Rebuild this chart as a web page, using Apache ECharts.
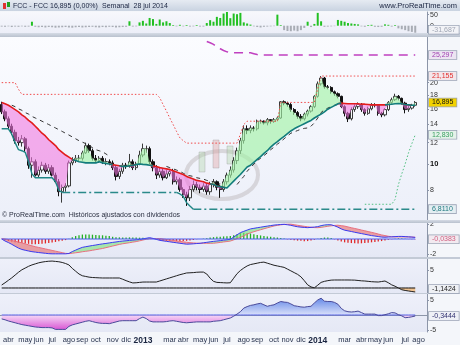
<!DOCTYPE html>
<html><head><meta charset="utf-8">
<script src="https://cdn.jsdelivr.net/npm/echarts@6/dist/echarts.min.js"></script>
<style>html,body{margin:0;padding:0;background:#f4f6fa}#c{width:460px;height:345px}</style>
</head><body><div id="c"></div>
<script>
// ---------- DATA (weekly, FCC, from 19 mar 2012 to 28 jul 2014) ----------
const monthNames = ['ene','feb','mar','abr','may','jun','jul','ago','sep','oct','nov','dic'];
const priceTicks = [8,10,12,14,16,18,20];

const open = [16.6,15.6,14.7,13.8,13.1,12.2,12.0,12.4,11.4,9.9,
 10.2,9.1,9.5,9.9,9.4,9.7,9.1,8.6,7.9,8.2,
 8.3,10.1,10.3,10.5,10.5,11.0,11.7,11.2,10.5,10.3,
 10.5,10.2,10.2,10.1,9.7,9.0,9.4,9.9,9.8,10.2,
 9.7,10.0,10.8,11.4,11.4,10.2,9.7,9.1,9.4,8.9,
 9.2,9.4,8.6,8.75,8.05,7.7,7.5,8.05,8.4,8.2,
 8.05,8.3,7.9,8.4,8.6,8.2,8.05,8.6,9.1,9.5,
 10.3,11.2,12.2,13.5,13.3,13.6,13.5,14.4,14.4,14.2,
 14.6,14.4,14.6,14.8,17.0,16.8,16.6,15.9,15.5,15.0,
 14.7,15.3,15.7,16.3,17.8,19.8,20.8,19.3,19.2,18.5,
 18.2,17.8,16.3,15.4,14.7,15.9,16.3,16.6,15.9,15.4,
 16.0,16.5,16.5,15.4,15.2,15.9,16.9,17.3,17.8,17.5,
 16.8,15.9,16.1,16.5];
const close = [15.6,14.7,13.8,13.1,12.2,12.0,12.4,11.4,9.9,10.2,
 9.1,9.5,9.9,9.4,9.7,9.1,8.6,7.9,8.2,8.3,
 10.1,10.3,10.5,10.5,11.0,11.7,11.2,10.5,10.3,10.5,
 10.2,10.2,10.1,9.7,9.0,9.4,9.9,9.8,10.2,9.7,
 10.0,10.8,11.4,11.4,10.2,9.7,9.1,9.4,8.9,9.2,
 9.4,8.6,8.75,8.05,7.7,7.5,8.05,8.4,8.2,8.05,
 8.3,7.9,8.4,8.6,8.2,8.05,8.6,9.1,9.5,10.3,
 11.2,12.2,13.5,13.3,13.6,13.5,14.4,14.4,14.2,14.6,
 14.4,14.6,14.8,17.0,16.8,16.6,15.9,15.5,15.0,14.7,
 15.3,15.7,16.3,17.8,19.8,20.8,19.3,19.2,18.5,18.2,
 17.8,16.3,15.4,14.7,15.9,16.3,16.6,15.9,15.4,16.0,
 16.5,16.5,15.4,15.2,15.9,16.9,17.3,17.8,17.5,16.8,
 15.9,16.1,16.5,16.895];
const high = [17.0,15.9,15.0,14.1,13.4,12.6,12.8,12.6,11.6,10.6,
 10.4,9.8,10.2,10.1,10.0,9.9,9.3,8.8,8.4,8.5,
 10.3,10.6,10.8,10.8,11.2,12.0,11.9,11.4,10.8,10.7,
 10.7,10.5,10.4,10.3,9.9,9.6,10.1,10.1,10.9,10.4,
 10.2,11.2,11.9,11.7,11.6,10.4,9.9,9.7,9.6,9.5,
 9.6,9.6,9.0,8.9,8.2,7.9,8.3,8.7,8.6,8.4,
 8.5,8.5,8.6,8.8,8.7,8.4,8.8,9.3,9.8,10.6,
 11.5,12.5,13.9,13.9,13.9,13.8,14.6,14.6,14.5,14.8,
 14.6,14.8,15.0,17.1,17.2,17.0,16.8,16.1,15.7,15.3,
 15.5,15.9,16.5,18.0,20.2,21.15,21.0,19.6,19.4,18.7,
 18.4,17.9,16.5,15.6,16.2,16.6,16.9,16.8,16.1,16.3,
 16.8,16.8,16.6,15.6,16.1,17.1,17.6,18.2,18.0,17.6,
 17.0,16.4,16.7,17.1];
const low = [15.3,14.4,13.5,12.8,11.9,11.7,11.6,11.1,9.6,8.9,
 9.0,8.9,9.3,9.2,9.2,9.0,8.5,7.6,7.2,7.9,
 8.2,9.9,10.1,10.2,10.3,10.9,11.0,10.3,10.1,10.1,
 10.0,9.9,9.9,9.5,8.7,8.8,9.2,9.6,9.7,9.5,
 9.5,9.9,10.6,11.0,10.0,9.4,8.8,8.9,8.7,8.8,
 9.0,8.4,8.4,7.9,7.5,7.0,7.3,7.9,8.0,7.8,
 7.9,7.7,7.7,8.2,8.0,7.5,7.9,8.4,8.9,9.3,
 10.0,10.9,11.9,12.9,13.0,13.2,13.3,14.1,14.0,13.9,
 14.1,14.2,14.4,14.7,16.5,16.3,15.6,15.2,14.7,14.4,
 14.5,15.0,15.5,16.1,17.6,19.5,19.0,18.9,18.2,17.9,
 17.5,16.1,15.0,14.3,14.5,15.6,16.0,15.6,15.1,15.2,
 15.8,16.2,15.1,14.9,15.0,15.7,16.7,17.1,17.2,16.6,
 15.4,15.6,15.9,16.3];
// slow moving average
const ma = [16.9,16.7,16.5,16.2,15.9,15.6,15.2,14.9,14.5,14.2,
 13.8,13.4,13.0,12.7,12.3,12.0,11.7,11.3,11.05,10.8,
 10.6,10.4,10.3,10.2,10.15,10.1,10.1,10.1,10.1,10.2,
 10.1,10.05,10.0,9.95,9.9,9.85,9.8,9.8,9.85,9.9,
 9.95,10.0,9.97,9.95,9.9,9.85,9.8,9.7,9.65,9.6,
 9.55,9.45,9.35,9.25,9.15,9.0,8.9,8.8,8.7,8.65,
 8.6,8.5,8.45,8.4,8.3,8.25,8.2,8.15,8.4,8.65,
 8.9,9.15,9.45,9.75,9.9,10.15,10.4,10.65,10.95,11.2,
 11.55,11.85,12.1,12.4,12.65,12.95,13.25,13.5,13.7,13.9,
 14.1,14.3,14.5,14.8,15.05,15.3,15.6,15.95,16.2,16.45,
 16.7,16.8,16.75,16.7,16.7,16.7,16.7,16.65,16.65,16.6,
 16.55,16.55,16.55,16.55,16.55,16.6,16.65,16.7,16.75,16.7,
 16.6,16.55,16.5,16.5];
// upper channel (red dotted)
const upperCh = [20.0,20.0,20.0,20.0,20.0,18.9,18.1,18.1,18.1,18.1,
 18.1,18.1,18.1,18.1,18.1,18.1,18.1,18.1,18.1,18.1,
 18.1,18.1,18.1,18.1,18.1,18.1,18.1,18.1,18.1,18.1,
 18.1,18.1,18.1,18.1,18.1,18.1,18.1,18.1,18.1,18.1,
 18.1,18.1,18.1,18.1,18.1,18.1,18.1,17.6,16.6,15.7,
 14.8,14.0,13.2,12.5,12.2,11.95,11.95,11.95,11.95,11.95,
 11.95,11.95,11.95,11.95,11.95,11.95,11.95,11.95,11.95,11.95,
 11.95,12.9,14.0,14.4,14.4,14.4,14.4,14.4,14.4,14.4,
 14.4,14.4,14.4,16.9,16.9,16.9,16.9,16.9,16.9,16.9,
 16.9,16.9,16.9,16.9,19.0,21.155,21.155,21.155,21.155,21.155,
 21.155,21.155,21.155,21.155,21.155,21.155,21.155,21.155,21.155,21.155,
 21.155,21.155,21.155,21.155,21.155,21.155,21.155,21.155,21.155,21.155,
 21.155,21.155,21.155,21.155];
// lower channel (teal)
const lowerCh = [13.5,13.5,13.5,12.9,12.0,11.3,11.2,11.05,10.2,9.2,
 8.9,8.9,8.9,8.9,8.9,8.9,8.6,8.0,7.85,7.85,
 7.85,7.85,7.85,7.85,7.85,7.85,7.85,7.85,7.85,7.85,
 7.85,7.85,7.85,7.85,7.85,7.85,7.85,7.85,7.85,7.85,
 7.85,7.85,7.85,7.85,7.85,7.85,7.85,7.85,7.85,7.85,
 7.85,7.85,7.85,7.75,7.6,7.2,7.0,6.811,6.811,6.811,
 6.811,6.811,6.811,6.811,6.811,6.811,6.811,6.811,6.811,6.811,
 6.811,6.811,6.811,6.811,6.811,6.811,6.811,6.811,6.811,6.811,
 6.811,6.811,6.811,6.811,6.811,6.811,6.811,6.811,6.811,6.811,
 6.811,6.811,6.811,6.811,6.811,6.811,6.811,6.811,6.811,6.811,
 6.811,6.811,6.811,6.811,6.811,6.811,6.811,6.811,6.811,6.811,
 6.811,6.811,6.811,6.811,6.811,6.811,6.811,6.811,6.811,6.811,
 6.811,6.811,6.811,6.811];
// green dotted stop
const greenStop = [null,null,null,null,null,null,null,null,null,null,
 null,null,null,null,null,null,null,null,null,null,
 null,null,null,null,null,null,null,null,null,null,
 null,null,null,null,null,null,null,null,null,null,
 null,null,null,null,null,null,null,null,null,null,
 null,null,null,null,null,null,null,null,null,null,
 null,null,null,null,null,null,null,null,null,null,
 null,null,null,null,null,null,null,null,null,null,
 null,null,null,null,null,null,null,null,null,null,
 null,null,null,null,null,null,null,null,null,null,
 null,null,null,null,null,null,null,null,7.1,7.1,
 7.1,7.1,7.1,7.1,7.1,7.1,7.1,7.4,8.4,9.2,
 10.0,11.0,11.9,12.83];
// purple dashed level
const purpleLvl = [null,null,null,null,null,null,null,null,null,null,
 null,null,null,null,null,null,null,null,null,null,
 null,null,null,null,null,null,null,null,null,null,
 null,null,null,null,null,null,null,null,null,null,
 null,null,null,null,null,null,null,null,null,null,
 null,null,null,null,null,null,null,null,null,null,
 null,28.4,28.1,27.7,27.1,26.7,26.3,26.0,25.8,25.8,
 25.8,25.8,25.8,25.8,25.8,25.6,25.4,25.297,25.297,25.297,
 25.297,25.297,25.297,25.297,25.297,25.297,25.297,25.297,25.297,25.297,
 25.297,25.297,25.297,25.297,25.297,25.297,25.297,25.297,25.297,25.297,
 25.297,25.297,25.297,25.297,25.297,25.297,25.297,25.297,25.297,25.297,
 25.297,25.297,25.297,25.297,25.297,25.297,25.297,25.297,25.297,25.297,
 25.297,25.297,25.297,25.297];
// black dashed trailing stop
const trailStop = [null,null,null,16.5,16.3,16.0,15.8,15.5,15.3,15.0,
 14.8,14.6,14.4,14.2,14.0,13.8,13.6,13.4,13.2,13.0,
 12.8,12.6,12.4,12.2,12.05,11.9,11.7,11.5,11.3,11.2,
 11.1,10.9,10.7,null,null,null,null,null,null,null,
 null,null,null,null,null,null,null,null,null,9.8,
 9.7,9.6,9.5,9.4,9.25,9.1,9.05,9.0,8.9,8.85,
 8.8,8.7,8.65,8.6,8.5,8.45,null,null,null,null,
 8.4,8.7,9.0,9.4,9.7,10.0,10.3,10.5,10.75,11.0,
 11.3,11.55,11.85,12.1,12.4,12.7,13.0,13.15,13.3,13.45,
 13.55,13.6,13.8,14.2,14.8,15.5,15.9,16.1,16.3,16.5,
 16.6,null,null,null,null,null,null,null,null,null,
 null,null,null,null,null,null,null,null,null,null,
 null,null,null,null];
// top panel histogram
const topHist = [-4,-5,-3,-6,-4,-5,-3,-5,-4,18,
 -5,-7,-6,-8,-6,-7,-9,-8,-7,-6,
 -8,-9,-7,-6,-8,-7,-6,-5,-7,-8,
 -6,-7,-5,-6,-8,-7,-6,-5,20,-4,
 -3,15,22,10,35,30,8,28,15,20,
 12,3,-3,4,-3,3,-4,-3,3,-4,
 -4,12,25,18,40,35,55,62,34,55,
 52,58,15,10,5,-3,-6,-8,-5,-4,
 -3,-2,50,3,-20,-24,-25,-22,-25,-20,
 -10,18,-6,8,58,20,-5,-4,-3,-2,
 26,22,18,12,10,8,6,-3,-5,3,
 4,-5,-6,-5,6,4,-4,3,-12,-16,
 -20,-25,-28,-31.687];
// MACD panel
const macd = [0.0,-0.27,-0.48,-0.72,-0.98,-1.23,-1.41,-1.52,-1.62,-1.71,
 -1.77,-1.83,-1.88,-1.93,-1.98,-2.0,-2.0,-2.0,-2.0,-2.0,
 -1.95,-1.7,-1.5,-1.3,-1.13,-1.04,-0.96,-0.88,-0.81,-0.73,
 -0.66,-0.6,-0.53,-0.46,-0.4,-0.33,-0.28,-0.24,-0.19,-0.15,
 -0.11,-0.07,0.02,0.1,0.18,0.08,-0.05,-0.18,-0.25,-0.32,
 -0.38,-0.45,-0.51,-0.58,-0.64,-0.7,-0.68,-0.65,-0.61,-0.58,
 -0.51,-0.45,-0.38,-0.32,-0.27,-0.22,-0.16,-0.11,-0.04,0.26,
 0.56,0.86,1.03,1.2,1.36,1.44,1.52,1.59,1.67,1.74,
 1.81,1.88,1.92,1.96,1.98,1.92,1.85,1.74,1.65,1.6,
 1.56,1.53,1.57,1.61,1.67,1.8,1.89,1.93,1.92,1.78,
 1.6,1.36,1.19,1.1,1.01,0.91,0.82,0.73,0.64,0.55,
 0.46,0.4,0.33,0.26,0.24,0.27,0.29,0.32,0.35,0.35,
 0.32,0.29,0.26,0.21];
const signal = [0.05,0.0,-0.08,-0.2,-0.3,-0.41,-0.52,-0.65,-0.79,-0.92,
 -1.04,-1.14,-1.24,-1.34,-1.44,-1.54,-1.64,-1.74,-1.84,-1.94,
 -1.97,-1.92,-1.86,-1.8,-1.72,-1.66,-1.6,-1.52,-1.44,-1.36,
 -1.28,-1.17,-1.06,-0.95,-0.84,-0.73,-0.64,-0.57,-0.5,-0.42,
 -0.35,-0.25,-0.14,-0.03,0.05,0.06,0.06,0.06,0.0,-0.06,
 -0.13,-0.19,-0.26,-0.32,-0.38,-0.44,-0.49,-0.53,-0.56,-0.58,
 -0.58,-0.58,-0.58,-0.57,-0.52,-0.46,-0.4,-0.34,-0.28,-0.12,
 0.05,0.21,0.43,0.65,0.85,0.98,1.12,1.25,1.38,1.51,
 1.63,1.76,1.84,1.91,1.97,1.99,2.0,1.93,1.85,1.78,
 1.71,1.64,1.59,1.54,1.53,1.57,1.64,1.72,1.78,1.83,
 1.86,1.8,1.74,1.63,1.52,1.42,1.32,1.21,1.11,1.0,
 0.9,0.79,0.67,0.55,0.46,0.37,0.3,0.28,0.28,0.28,
 0.28,0.28,0.26,0.24];
const macdHist = [0,-0.15,-0.25,-0.35,-0.45,-0.5,-0.55,-0.6,-0.65,-0.7,
 -0.7,-0.68,-0.65,-0.6,-0.55,-0.48,-0.4,-0.32,-0.24,-0.15,
 0.05,0.25,0.4,0.5,0.6,0.62,0.6,0.58,0.55,0.52,
 0.5,0.45,0.4,0.3,0.25,0.22,0.2,0.2,0.22,0.2,
 0.2,0.18,0.16,0.14,0.1,0.02,-0.08,-0.18,-0.22,-0.25,
 -0.25,-0.25,-0.28,-0.28,-0.28,-0.25,-0.2,-0.12,-0.05,0.0,
 0.05,0.1,0.2,0.25,0.3,0.32,0.35,0.38,0.42,0.5,
 0.65,0.8,0.85,0.82,0.75,0.65,0.55,0.48,0.42,0.35,
 0.3,0.25,0.2,0.15,0.08,-0.05,-0.1,-0.18,-0.22,-0.25,
 -0.3,-0.28,-0.2,-0.1,0.05,0.15,0.2,0.2,0.15,-0.05,
 -0.2,-0.35,-0.45,-0.5,-0.55,-0.58,-0.6,-0.58,-0.55,-0.5,
 -0.45,-0.4,-0.35,-0.28,-0.2,-0.1,-0.05,0.05,0.08,0.08,
 0.04,-0.02,-0.05,-0.0383];
// oscillator panel 4
const osc4 = [0.86,1.5,2.2,2.9,3.7,4.5,5.2,5.7,6.2,6.6,
 6.9,7.2,7.4,7.55,7.65,7.7,7.6,7.5,7.3,7.0,
 6.6,5.6,4.8,4.0,3.5,3.3,3.1,3.0,2.95,2.9,
 2.86,2.86,2.86,2.86,2.86,2.86,2.5,2.1,1.75,1.45,
 1.5,1.6,1.7,1.71,1.71,1.71,1.71,2.0,2.3,2.6,
 2.9,3.2,3.5,3.8,4.05,4.3,4.35,4.4,4.5,4.55,
 4.55,4.0,2.8,1.9,1.6,1.55,1.5,1.45,1.5,2.8,
 4.1,5.0,5.7,6.3,6.7,6.9,7.1,7.3,7.4,7.1,
 6.8,6.5,6.3,6.1,5.9,5.4,4.9,4.4,3.9,3.2,
 2.1,0.9,0.3,0.05,0.8,1.6,1.9,2.1,2.25,2.29,
 2.29,2.29,2.29,2.29,2.27,2.25,2.15,2.05,2.0,1.9,
 1.8,1.75,1.71,1.85,2.0,1.5,0.9,0.5,0.0,-0.5,
 -0.7,-0.85,-1.0,-1.1424];
// oscillator panel 5
const osc5 = [-1.3,-1.6,-2.0,-2.3,-2.6,-2.9,-3.2,-3.4,-3.6,-3.8,
 -4.0,-4.1,-4.2,-4.2,-4.2,-4.3,-4.8,-4.8,-4.8,-4.8,
 -3.8,-3.3,-3.0,-2.7,-2.4,-2.1,-1.9,-2.2,-2.5,-2.7,
 -2.8,-2.8,-2.9,-2.6,-2.3,-2.0,-1.9,-1.9,-1.9,-1.9,
 -1.9,-1.2,-0.7,-1.2,-2.0,-2.3,-2.3,-2.3,-2.3,-2.2,
 -2.0,-1.9,-2.1,-2.3,-2.5,-2.6,-2.5,-2.4,-2.3,-2.3,
 -2.3,-2.3,-2.3,-2.1,-2.0,-1.9,-1.6,-1.3,-1.0,-0.4,
 0.3,1.1,2.3,2.8,3.2,3.4,3.7,3.9,3.4,2.9,
 3.2,3.4,4.0,4.5,4.3,4.2,3.7,3.1,2.9,2.7,
 2.6,2.8,2.9,4.0,5.0,5.6,4.6,4.5,4.5,4.2,
 3.6,2.2,1.4,1.1,1.0,1.1,1.3,0.8,0.3,0.3,
 0.3,0.3,-0.2,-0.2,0.1,0.4,0.8,0.7,0.1,-0.3,
 -0.9,-0.8,-0.6,-0.3444];

// ---------- BUILD ----------
const NCAT = 127;
const cats = [];
const t0 = Date.UTC(2012, 2, 19);
for (let i = 0; i < NCAT; i++) cats.push(new Date(t0 + i * 7 * 86400000).toISOString().slice(0, 10));
const isMonthStart = (idx) => { const d = new Date(cats[idx] + 'T00:00:00Z'); return d.getUTCDate() <= 7 && d.getUTCMonth() !== 1; };
const fmtX = (v) => { const d = new Date(v + 'T00:00:00Z'); const m = d.getUTCMonth(); return m === 0 ? '{y|' + d.getUTCFullYear() + '}' : monthNames[m]; };

const candles = close.map((c, i) => [open[i], c, low[i], high[i]]);
const fBase = close.map((c, i) => Math.min(c, ma[i]));
const fPink = close.map((c, i) => c < ma[i] ? ma[i] - c : 0);
const fGreen = close.map((c, i) => c >= ma[i] ? c - ma[i] : 0);
const maAbove = close.map((c, i) => ma[i] > c);
const maRed = ma.map((v, i) => (maAbove[i] || maAbove[i - 1] || maAbove[i + 1]) ? v : null);
const maTeal = ma.map((v, i) => (!maAbove[i] || (i > 0 && !maAbove[i - 1]) || (i < ma.length - 1 && !maAbove[i + 1])) ? v : null);
const lowSolid = lowerCh.map((v, i) => (i <= 18 || (i >= 52 && i <= 57)) ? v : null);
const lowDash = lowerCh.map((v, i) => ((i >= 18 && i <= 52) || i >= 57) ? v : null);
const mBase = macd.map((m, i) => Math.min(m, signal[i]));
const mRed = macd.map((m, i) => m < signal[i] ? signal[i] - m : 0);
const mGreen = macd.map((m, i) => m >= signal[i] ? m - signal[i] : 0);
const o4neg = osc4.map(v => Math.min(v, 0));
const o5pos = osc5.map(v => Math.max(v, 0));
const o5neg = osc5.map(v => Math.min(v, 0));

const FONT = 'Liberation Sans';
const LG = (stops) => new echarts.graphic.LinearGradient(0, 0, 0, 1, stops.map((c, k) => ({ offset: k / (stops.length - 1), color: c })));
const panelBg = LG(['#eef0fa', '#e5e8f5']);
const grids = [
  { left: 0, right: 33, top: 12, height: 21, show: true, borderWidth: 0, backgroundColor: LG(['#f7f8fc', '#eceef8']) },
  { left: 0, right: 33, top: 37, height: 183, show: true, borderWidth: 0, backgroundColor: LG(['#fbfcff', '#eceff9']) },
  { left: 0, right: 33, top: 223, height: 34, show: true, borderWidth: 0, backgroundColor: panelBg },
  { left: 0, right: 33, top: 259, height: 34, show: true, borderWidth: 0, backgroundColor: panelBg },
  { left: 0, right: 33, top: 294, height: 38, show: true, borderWidth: 0, backgroundColor: panelBg }
];
const xAxes = grids.map((g, gi) => gi < 4 ? { type: 'category', gridIndex: gi, data: cats, show: false, boundaryGap: true } : {
  type: 'category', gridIndex: gi, data: cats, boundaryGap: true,
  axisLine: { lineStyle: { color: '#8c95a8' } },
  axisTick: { interval: (i) => isMonthStart(i), length: 3, lineStyle: { color: '#8c95a8' } },
  axisLabel: { interval: (i) => isMonthStart(i), formatter: fmtX, fontSize: 7.5, color: '#2a3550', fontFamily: FONT, margin: 4,
    rich: { y: { fontSize: 8.5, fontWeight: 'bold', color: '#1a2540', fontFamily: FONT } } }
});
const yBase = (gi, extra) => Object.assign({
  type: 'value', gridIndex: gi, position: 'right', splitLine: { show: false },
  axisLine: { show: true, lineStyle: { color: '#8c95a8' } },
  axisTick: { show: true, length: 2, lineStyle: { color: '#8c95a8' } },
  axisLabel: { fontSize: 7, color: '#333', margin: 3, fontFamily: FONT }
}, extra);
const yAxes = [
  yBase(0, { min: -33, max: 62, axisTick: { show: true, length: 2, customValues: [0, 50], lineStyle: { color: '#8c95a8' } }, axisLabel: { fontSize: 7, color: '#333', margin: 3, fontFamily: FONT, customValues: [0, 50] } }),
  yBase(1, { type: 'log', logBase: 10, min: 6.21, max: 29.5,
    axisTick: { show: true, length: 2, customValues: priceTicks, lineStyle: { color: '#8c95a8' } },
    axisLabel: { fontSize: 7, color: '#333', margin: 3, fontFamily: FONT, customValues: priceTicks,
      formatter: (v) => Math.round(v) === 10 ? '{b|10}' : String(Math.round(v)), rich: { b: { fontWeight: 'bold', fontSize: 7.5, color: '#111', fontFamily: FONT } } } }),
  yBase(2, { min: -2.43, max: 2.16, axisTick: { show: true, length: 2, customValues: [-2, 2], lineStyle: { color: '#8c95a8' } }, axisLabel: { fontSize: 7, color: '#333', margin: 3, fontFamily: FONT, customValues: [-2, 2] } }),
  yBase(3, { min: -1.43, max: 8.29, axisTick: { show: true, length: 2, customValues: [5], lineStyle: { color: '#8c95a8' } }, axisLabel: { fontSize: 7, color: '#333', margin: 3, fontFamily: FONT, customValues: [5] } }),
  yBase(4, { min: -5.67, max: 7.0, axisTick: { show: true, length: 2, customValues: [-5, 5], lineStyle: { color: '#8c95a8' } }, axisLabel: { fontSize: 7, color: '#333', margin: 3, fontFamily: FONT, customValues: [-5, 5] } })
];
const boxLabel = (text, color, bg, off) => ({ show: true, position: 'end', distance: 2, formatter: text, color: color, backgroundColor: bg,
  borderColor: '#9aa3b5', borderWidth: 0.8, padding: [1, 3, 0, 3], fontSize: 7, fontFamily: FONT, offset: [0, off || 0] });
const markBoxes = (items) => ({ silent: true, symbol: 'none', animation: false, z: 20,
  lineStyle: { color: 'rgba(0,0,0,0)', width: 1, type: 'solid' },
  data: items.map(it => ({ yAxis: it[0], lineStyle: { color: 'rgba(0,0,0,0)' }, label: boxLabel(it[1], it[2], it[3], it[4]) })) });
const line = (gi, data, color, width, type, extra) => Object.assign({ type: 'line', xAxisIndex: gi, yAxisIndex: gi, data: data,
  symbol: 'none', showSymbol: false, silent: true, lineStyle: { color: color, width: width, type: type || 'solid' } }, extra || {});
const hidden = { lineStyle: { width: 0, opacity: 0 } };

const series = [
  // top histogram
  { type: 'bar', xAxisIndex: 0, yAxisIndex: 0, barWidth: 2, data: topHist, silent: true,
    itemStyle: { color: (p) => p.value >= 0 ? '#22c022' : '#a8acb4' },
    markLine: markBoxes([[-31.687, '-31,687', '#a0a6b4', '#f2f3f7', -3]]) },
  // price fills
  Object.assign(line(1, fBase, '#000', 0), { stack: 'pf' }, hidden),
  Object.assign(line(1, fPink, '#000', 0), { stack: 'pf', areaStyle: { color: 'rgba(242,120,225,0.85)' } }, hidden),
  Object.assign(line(1, fGreen, '#000', 0), { stack: 'pf', areaStyle: { color: 'rgba(160,242,165,0.9)' } }, hidden),
  line(1, upperCh, '#f04848', 1, [1.5, 2]),
  line(1, lowSolid, '#1f8585', 1.4),
  line(1, lowDash, '#2a8a8a', 1.5, [8, 3, 2, 3]),
  line(1, greenStop, '#50c080', 1, [1.5, 2]),
  line(1, purpleLvl, '#c040c0', 1.5, [9, 6]),
  line(1, trailStop, '#333', 1, [4, 4]),
  line(1, maRed, '#e21c1c', 1.6),
  line(1, maTeal, '#127c7c', 1.6),
  { type: 'candlestick', xAxisIndex: 1, yAxisIndex: 1, data: candles, silent: true, barWidth: 2.8,
    itemStyle: { color: 'rgba(255,255,255,0.3)', color0: '#111', borderColor: '#3a3a3a', borderColor0: '#111', borderWidth: 1 },
    markLine: markBoxes([[25.297, '25,297', '#a040b0', '#ece4f2'], [21.155, '21,155', '#e03030', '#f3e6ea'],
      [16.895, '16,895', '#111', '#f2d200'], [12.83, '12,830', '#3aa060', '#e4f2ea'], [6.811, '6,8110', '#207a80', '#e4eef2']]) },
  // MACD panel
  Object.assign(line(2, mBase, '#000', 0), { stack: 'mf', stackStrategy: 'all' }, hidden),
  Object.assign(line(2, mRed, '#000', 0), { stack: 'mf', stackStrategy: 'all', areaStyle: { color: 'rgba(232,96,96,0.8)' } }, hidden),
  Object.assign(line(2, mGreen, '#000', 0), { stack: 'mf', stackStrategy: 'all', areaStyle: { color: 'rgba(120,225,120,0.85)' } }, hidden),
  { type: 'bar', xAxisIndex: 2, yAxisIndex: 2, barWidth: 1.3, data: macdHist, silent: true,
    itemStyle: { color: (p) => p.value >= 0 ? '#22b022' : '#e02828' },
    markLine: markBoxes([[-0.0383, '-0,0383', '#d06080', '#f2eaf0']]) },
  line(2, signal, '#e87080', 1),
  line(2, macd, '#3a3af0', 1),
  line(2, macd.map(() => 0), '#4a5cf0', 1),
  // panel 4
  Object.assign(line(3, o4neg, '#000', 0), { areaStyle: { color: '#f4b266' } }, hidden),
  line(3, osc4.map(() => 0), '#111', 1),
  line(3, osc4, '#202020', 1, 'solid', { markLine: markBoxes([[-1.1424, '-1,1424', '#202020', '#eef0f4', -3]]) }),
  // panel 5
  Object.assign(line(4, o5pos, '#000', 0), { areaStyle: { color: LG(['#2c5ee0', '#d4dcfb']) } }, hidden),
  Object.assign(line(4, o5neg, '#000', 0), { areaStyle: { color: LG(['#fbd2f6', '#d41ac6']) } }, hidden),
  line(4, osc5.map(() => 0), '#5a66e8', 1),
  line(4, osc5, '#4a4a9a', 1, 'solid', { markLine: markBoxes([[-0.3444, '-0,3444', '#303070', '#eef0f6']]) })
];

const graphic = [
  { type: 'rect', shape: { x: 0, y: 0, width: 460, height: 11 }, style: { fill: LG(['#e6ebf2', '#c9d3e1']) }, z: 10, silent: true },
  { type: 'rect', shape: { x: 3, y: 3, width: 3, height: 6 }, style: { fill: '#e03030' }, z: 11 },
  { type: 'rect', shape: { x: 7, y: 2, width: 3, height: 5 }, style: { fill: '#20a020' }, z: 11 },
  { type: 'text', x: 13, y: 6, z: 11, style: { text: 'FCC - FCC', fill: '#1a2440', font: '7px "Liberation Sans"', verticalAlign: 'middle' } },
  { type: 'text', x: 50, y: 6, z: 11, style: { text: '16,895 (0,00%)', fill: '#1a2440', font: '7px "Liberation Sans"', verticalAlign: 'middle' } },
  { type: 'text', x: 102, y: 6, z: 11, style: { text: 'Semanal  28 jul 2014', fill: '#1a2440', font: '7px "Liberation Sans"', verticalAlign: 'middle' } },
  { type: 'text', x: 457, y: 6, z: 11, style: { text: 'www.ProRealTime.com', fill: '#1a2440', font: '7.5px "Liberation Sans"', align: 'right', verticalAlign: 'middle' } },
  { type: 'rect', shape: { x: 0, y: 33, width: 460, height: 4 }, style: { fill: LG(['#d5dbe5', '#b9c1ce']) }, z: 10, silent: true },
  { type: 'rect', shape: { x: 0, y: 220, width: 460, height: 3 }, style: { fill: LG(['#d5dbe5', '#b9c1ce']) }, z: 10, silent: true },
  { type: 'rect', shape: { x: 0, y: 257, width: 460, height: 2 }, style: { fill: '#c3cad6' }, z: 10, silent: true },
  { type: 'rect', shape: { x: 0, y: 293, width: 460, height: 1 }, style: { fill: '#c3cad6' }, z: 10, silent: true },
  // faint watermark logo
  { type: 'ellipse', shape: { cx: 222, cy: 175, rx: 36, ry: 24 }, style: { fill: 'none', stroke: 'rgba(170,160,160,0.35)', lineWidth: 4 }, z: 0, silent: true },
  { type: 'rect', shape: { x: 199, y: 152, width: 6, height: 20 }, style: { fill: 'rgba(170,210,160,0.35)', stroke: 'rgba(150,150,150,0.35)' }, z: 0, silent: true },
  { type: 'rect', shape: { x: 213, y: 140, width: 6, height: 28 }, style: { fill: 'rgba(220,150,150,0.35)', stroke: 'rgba(150,150,150,0.35)' }, z: 0, silent: true },
  { type: 'rect', shape: { x: 227, y: 146, width: 6, height: 18 }, style: { fill: 'rgba(170,210,160,0.35)', stroke: 'rgba(150,150,150,0.35)' }, z: 0, silent: true },
  { type: 'text', x: 2, y: 215.5, z: 11, style: { text: '© ProRealTime.com  Históricos ajustados con dividendos', fill: '#2a2f40', font: '7px "Liberation Sans"', verticalAlign: 'middle' } }
];

const chart = echarts.init(document.getElementById('c'), null, { renderer: 'canvas', width: 460, height: 345 });
chart.setOption({ animation: false, backgroundColor: '#f4f6fa', grid: grids, xAxis: xAxes, yAxis: yAxes, series: series, graphic: graphic });
</script></body></html>
